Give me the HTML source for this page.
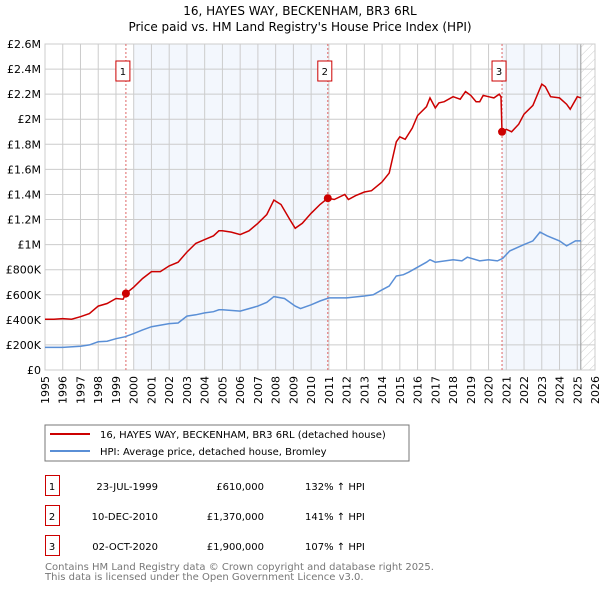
<!DOCTYPE html>
<html><head><meta charset="utf-8"><style>
body{margin:0;background:#fff;}
svg{font-family:"DejaVu Sans","Liberation Sans",sans-serif;}
</style></head><body>
<svg id="c" width="600" height="590" viewBox="0 0 600 590" xmlns="http://www.w3.org/2000/svg">
<defs><pattern id="hatch" width="6" height="6" patternUnits="userSpaceOnUse" patternTransform="rotate(45)"><line x1="0" y1="0" x2="0" y2="6" stroke="#ccc" stroke-width="1"/></pattern></defs>
<text x="300" y="15" text-anchor="middle" font-size="12">16, HAYES WAY, BECKENHAM, BR3 6RL</text>
<text x="300" y="31" text-anchor="middle" font-size="12">Price paid vs. HM Land Registry's House Price Index (HPI)</text>
<g id="plot"></g>
<rect x="45" y="425" width="364" height="36" fill="#fff" stroke="#777"/>
<line x1="50" y1="434" x2="90" y2="434" stroke="#cc0000" stroke-width="2"/>
<text x="100" y="438" font-size="10">16, HAYES WAY, BECKENHAM, BR3 6RL (detached house)</text>
<line x1="50" y1="451" x2="90" y2="451" stroke="#5a8fd6" stroke-width="2"/>
<text x="100" y="455" font-size="10">HPI: Average price, detached house, Bromley</text>
<g font-size="10">
<rect x="45.5" y="475.5" width="14" height="20" fill="#fff" stroke="#cc0000"/><text x="52" y="490" text-anchor="middle">1</text>
<text x="158" y="490" text-anchor="end">23-JUL-1999</text><text x="264" y="490" text-anchor="end">£610,000</text><text x="305" y="490">132% ↑ HPI</text>
<rect x="45.5" y="505.5" width="14" height="20" fill="#fff" stroke="#cc0000"/><text x="52" y="520" text-anchor="middle">2</text>
<text x="158" y="520" text-anchor="end">10-DEC-2010</text><text x="264" y="520" text-anchor="end">£1,370,000</text><text x="305" y="520">141% ↑ HPI</text>
<rect x="45.5" y="535.5" width="14" height="20" fill="#fff" stroke="#cc0000"/><text x="52" y="550" text-anchor="middle">3</text>
<text x="158" y="550" text-anchor="end">02-OCT-2020</text><text x="264" y="550" text-anchor="end">£1,900,000</text><text x="305" y="550">107% ↑ HPI</text>
</g>
<text x="45" y="570" font-size="10" fill="#777">Contains HM Land Registry data © Crown copyright and database right 2025.</text>
<text x="45" y="580" font-size="10" fill="#777">This data is licensed under the Open Government Licence v3.0.</text>
</svg>
<script>
const redX=[1995,1995.5,1996,1996.5,1997,1997.5,1998,1998.5,1999,1999.4,1999.56,2000,2000.5,2001,2001.5,2002,2002.5,2003,2003.5,2004,2004.5,2004.8,2005,2005.5,2006,2006.5,2007,2007.5,2007.9,2008.3,2008.8,2009.1,2009.5,2010,2010.5,2010.94,2011.3,2011.9,2012.1,2012.5,2013,2013.4,2014,2014.4,2014.8,2015,2015.3,2015.7,2016,2016.5,2016.7,2017,2017.2,2017.5,2018,2018.4,2018.7,2019,2019.3,2019.5,2019.7,2020,2020.3,2020.6,2020.7,2020.76,2021,2021.3,2021.7,2022,2022.5,2023,2023.2,2023.5,2024,2024.4,2024.6,2025,2025.2];
const redY=[405,405,410,405,425,450,510,530,570,565,610,660,730,785,785,830,860,940,1010,1040,1070,1110,1110,1100,1080,1110,1170,1240,1355,1320,1200,1130,1170,1250,1320,1370,1360,1400,1360,1390,1420,1430,1500,1570,1820,1860,1840,1930,2030,2100,2170,2090,2130,2140,2180,2160,2220,2190,2140,2140,2190,2180,2170,2200,2180,1900,1920,1900,1960,2040,2110,2280,2260,2180,2170,2120,2080,2180,2170];
const blueX=[1995,1996,1997,1997.5,1998,1998.5,1999,1999.5,2000,2000.5,2001,2002,2002.5,2003,2003.5,2004,2004.5,2004.8,2005,2006,2006.5,2007,2007.5,2007.9,2008.5,2009.1,2009.4,2010,2010.5,2011,2011.5,2012,2013,2013.5,2014,2014.4,2014.8,2015.2,2015.5,2016,2016.5,2016.7,2017,2018,2018.5,2018.8,2019.5,2020,2020.5,2020.8,2021.2,2022,2022.5,2022.9,2023.3,2024,2024.4,2024.9,2025.2];
const blueY=[180,180,190,200,225,230,250,265,290,320,345,370,375,430,440,455,465,480,480,470,490,510,540,585,570,510,490,520,550,575,575,575,590,600,640,670,750,760,780,820,860,880,860,880,870,900,870,880,870,890,950,1000,1030,1100,1070,1030,990,1030,1030];
const saleX=[1999.56,2010.94,2020.76];
const saleY=[610,1370,1900];
const saleLabels=["1","2","3"];
const yTicks=[0,200,400,600,800,1000,1200,1400,1600,1800,2000,2200,2400,2600];
const yTickLabels=["£0","£200K","£400K","£600K","£800K","£1M","£1.2M","£1.4M","£1.6M","£1.8M","£2M","£2.2M","£2.4M","£2.6M"];
const xYears=[1995,1996,1997,1998,1999,2000,2001,2002,2003,2004,2005,2006,2007,2008,2009,2010,2011,2012,2013,2014,2015,2016,2017,2018,2019,2020,2021,2022,2023,2024,2025,2026];

const L=45,R=595,T=44,B=370;
const sx=v=>L+(v-1995)/(2026-1995)*(R-L);
const sy=v=>B-v/2600*(B-T);
const NS="http://www.w3.org/2000/svg";
const g=document.getElementById('plot');
function mk(tag,attrs,parent){const e=document.createElementNS(NS,tag);for(const k in attrs)e.setAttribute(k,attrs[k]);(parent||g).appendChild(e);return e;}
mk('rect',{x:L,y:T,width:R-L,height:B-T,fill:'#fff'});
let e;
e=mk('rect',{x:sx(2000),y:T,width:sx(saleX[1])-sx(2000),height:B-T,fill:'#eef3fc',opacity:0.7});


e=mk('rect',{x:sx(saleX[2]),y:T,width:sx(2025.2)-sx(saleX[2]),height:B-T,fill:'#eef3fc',opacity:0.7});


e=mk('rect',{x:sx(2025.2),y:T,width:R-sx(2025.2),height:B-T,fill:'url(#hatch)'});


yTicks.forEach((v,i)=>{
 mk('line',{x1:L,x2:R,y1:sy(v),y2:sy(v),stroke:'#ccc','stroke-width':1});
 const t=mk('text',{x:L-4,y:sy(v)+4,'text-anchor':'end','font-size':11});
 t.textContent=yTickLabels[i];
 
 
});
xYears.forEach(y=>{
 mk('line',{x1:sx(y),x2:sx(y),y1:T,y2:B,stroke:'#ccc','stroke-width':1});
 const t=mk('text',{x:0,y:0,'text-anchor':'end','font-size':11,transform:`translate(${sx(y)+4},${B+6}) rotate(-90)`});
 t.textContent=y;
 
 
});
mk('line',{x1:sx(2025.2),x2:sx(2025.2),y1:T,y2:B,stroke:'#999','stroke-width':1});
mk('rect',{x:L,y:T,width:R-L,height:B-T,fill:'none',stroke:'#ccc'});
saleX.forEach((x,i)=>{
 e=mk('line',{x1:sx(x),x2:sx(x),y1:T,y2:B,stroke:'#e06666','stroke-width':1,'stroke-dasharray':'2,2'});
 
 
 e=mk('rect',{x:sx(x)-10,y:61,width:14,height:20,fill:'#fff',stroke:'#cc0000'});
 
 
 const t=mk('text',{x:sx(x)-3,y:75,'text-anchor':'middle','font-size':10});
 t.textContent=saleLabels[i];
});
const pts=(X,Y)=>X.map((x,i)=>sx(x).toFixed(1)+','+sy(Y[i]).toFixed(1)).join(' ');
e=mk('polyline',{points:pts(blueX,blueY),fill:'none',stroke:'#5a8fd6','stroke-width':1.5});


e=mk('polyline',{points:pts(redX,redY),fill:'none',stroke:'#cc0000','stroke-width':1.5});


saleX.forEach((x,i)=>{
 e=mk('circle',{cx:sx(x),cy:sy(saleY[i]),r:4,fill:'#cc0000'});
 
 
});
</script>
</body></html>
